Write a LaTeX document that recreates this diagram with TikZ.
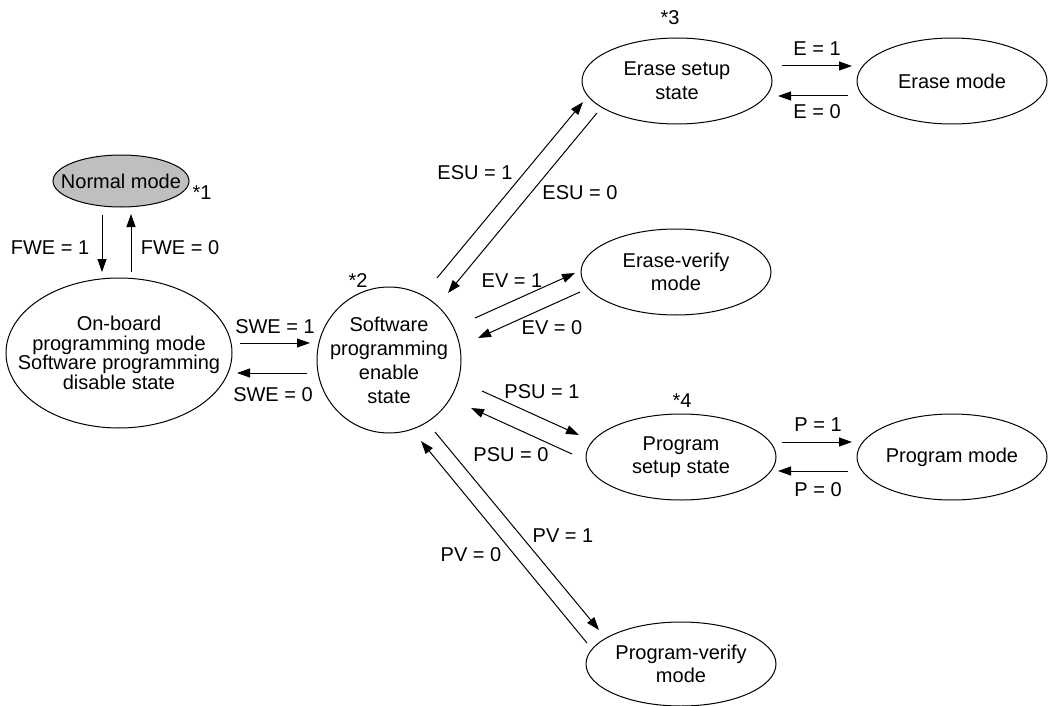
\documentclass[tikz,border=0pt]{standalone}
\usepackage{fontspec}
\setmainfont{Liberation Sans}
\usetikzlibrary{shapes.geometric,arrows.meta}

\begin{document}
\begin{tikzpicture}[
  x=0.5pt, y=-0.5pt,
  state/.style={ellipse, draw, line width=0.5pt, inner sep=-30pt, align=center, font=\fontsize{10}{11.8}\selectfont},
  wide/.style={minimum width=95pt, minimum height=43pt},
  arrow/.style={-{Triangle[length=6.5pt, width=4.5pt]}, line width=0.5pt},
  cond/.style={font=\fontsize{10}{12}\selectfont, inner sep=0pt},
]
\useasboundingbox (0,0) rectangle (1049,706);

% === States ===
\node[state, fill=gray!50, minimum width=68pt, minimum height=26pt] (normal) at (121,181) {Normal mode};
\node[state, minimum width=113pt, minimum height=75pt, font=\fontsize{10}{9.8}\selectfont] (onboard) at (119,353)
  {On-board\\programming mode\\Software programming\\disable state};
\node[state, minimum width=72pt, minimum height=73pt, font=\fontsize{10}{12}\selectfont] (swenable) at (389,360)
  {Software\\programming\\enable\\state};
\node[state, wide] (esetup) at (677,81) {Erase setup\\state};
\node[state, wide] (erase) at (952,81) {Erase mode};
\node[state, wide] (everify) at (676,272) {Erase-verify\\mode};
\node[state, wide] (psetup) at (681,457) {Program\\setup state};
\node[state, wide] (prog) at (952,457) {Program mode};
\node[state, wide, minimum height=42pt] (pverify) at (681,664) {Program-verify\\mode};

% === Notes ===
\node[cond] (n1) at (202,193) {*1};
\node[cond] (n2) at (358,281) {*2};
\node[cond] (n3) at (670,18) {*3};
\node[cond] (n4) at (682,401) {*4};

% === Transitions ===
\draw[arrow] ([shift={(-19,34)}]normal.center) -- ([shift={(-17,-81)}]onboard.center);
\draw[arrow] ([shift={(12,-81)}]onboard.center) -- ([shift={(10,33)}]normal.center);
\node[cond] (fwe1) at (50,248) {FWE = 1};
\node[cond] (fwe0) at (180,248) {FWE = 0};

\draw[arrow] ([shift={(121,-10)}]onboard.center) -- ([shift={(-79,-17)}]swenable.center);
\draw[arrow] ([shift={(-82,13)}]swenable.center) -- ([shift={(118,20)}]onboard.center);
\node[cond] (swe1) at (275,327) {SWE = 1};
\node[cond] (swe0) at (273,395) {SWE = 0};

\draw[arrow] ([shift={(48,-82)}]swenable.center) -- ([shift={(-94,21)}]esetup.center);
\draw[arrow] ([shift={(-80,32)}]esetup.center) -- ([shift={(59,-67)}]swenable.center);
\node[cond] (esu1) at (475,173) {ESU = 1};
\node[cond] (esu0) at (580,193) {ESU = 0};

\draw[arrow] ([shift={(86,-42)}]swenable.center) -- ([shift={(-101,1)}]everify.center);
\draw[arrow] ([shift={(-96,20)}]everify.center) -- ([shift={(89,-22)}]swenable.center);
\node[cond] (ev1) at (512,281) {EV = 1};
\node[cond] (ev0) at (552,328) {EV = 0};

\draw[arrow] ([shift={(93,31)}]swenable.center) -- ([shift={(-102,-22)}]psetup.center);
\draw[arrow] ([shift={(-109,-3)}]psetup.center) -- ([shift={(82,48)}]swenable.center);
\node[cond] (psu1) at (542,392) {PSU = 1};
\node[cond] (psu0) at (511,455) {PSU = 0};

\draw[arrow] ([shift={(46,72)}]swenable.center) -- ([shift={(-82,-34)}]pverify.center);
\draw[arrow] ([shift={(-94,-21)}]pverify.center) -- ([shift={(32,81)}]swenable.center);
\node[cond] (pv1) at (563,536) {PV = 1};
\node[cond] (pv0) at (471,555) {PV = 0};

\draw[arrow] ([shift={(105,-15)}]esetup.center) -- ([shift={(-100,-15)}]erase.center);
\draw[arrow] ([shift={(-104,15)}]erase.center) -- ([shift={(101,15)}]esetup.center);
\node[cond] (e1) at (817,49) {E = 1};
\node[cond] (e0) at (817,112) {E = 0};

\draw[arrow] ([shift={(101,-15)}]psetup.center) -- ([shift={(-100,-15)}]prog.center);
\draw[arrow] ([shift={(-104,14)}]prog.center) -- ([shift={(97,14)}]psetup.center);
\node[cond] (p1) at (818,425) {P = 1};
\node[cond] (p0) at (818,490) {P = 0};

\end{tikzpicture}
\end{document}
